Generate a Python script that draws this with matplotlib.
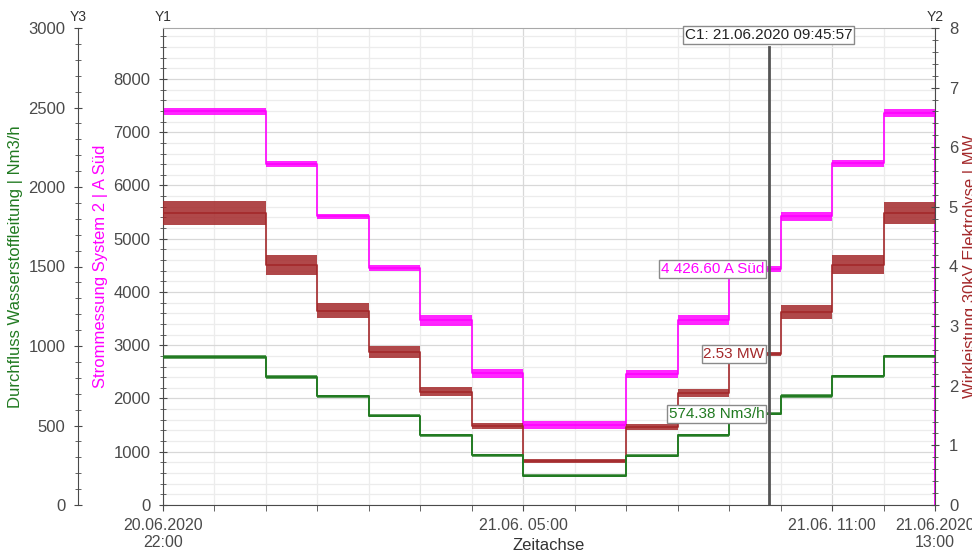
import matplotlib.pyplot as plt
import matplotlib.dates as mdates
from matplotlib.ticker import MultipleLocator, FixedLocator
from datetime import datetime

plt.rcParams['font.family'] = ['Liberation Sans', 'DejaVu Sans']

# hourly steps of the load profile, last entry = end of recording
step_times = [datetime(2020, 6, 20, 22), datetime(2020, 6, 21, 0), datetime(2020, 6, 21, 1),
              datetime(2020, 6, 21, 2), datetime(2020, 6, 21, 3), datetime(2020, 6, 21, 4),
              datetime(2020, 6, 21, 5), datetime(2020, 6, 21, 7), datetime(2020, 6, 21, 8),
              datetime(2020, 6, 21, 9), datetime(2020, 6, 21, 10), datetime(2020, 6, 21, 11),
              datetime(2020, 6, 21, 12), datetime(2020, 6, 21, 13)]

current_a = [7390, 6400, 5420, 4450, 3470, 2470, 1500, 2460, 3470, 4430, 5420, 6415, 7360]
power_mw = [4.90, 4.03, 3.26, 2.57, 1.90, 1.33, 0.74, 1.31, 1.88, 2.53, 3.24, 4.03, 4.90]
flow_nm3h = [931, 805, 684, 561, 439, 312, 184, 310, 439, 574, 686, 810, 935]
# rough half height of the measurement noise on each step
current_spread = [70, 60, 50, 60, 100, 80, 70, 80, 90, 50, 80, 70, 70]
power_spread = [0.20, 0.17, 0.13, 0.10, 0.08, 0.05, 0.03, 0.05, 0.07, 0.03, 0.12, 0.16, 0.19]
flow_spread = [10, 10, 10, 10, 10, 10, 8, 10, 10, 8, 10, 10, 10]

cursor_time = datetime(2020, 6, 21, 9, 45, 57)
cursor_current = 4426.60
cursor_power = 2.53
cursor_flow = 574.38

x_major = [datetime(2020, 6, 20, 22), datetime(2020, 6, 21, 5), datetime(2020, 6, 21, 11),
           datetime(2020, 6, 21, 13)]
x_major_labels = ['20.06.2020\n22:00', '21.06. 05:00', '21.06. 11:00', '21.06.2020\n13:00']

c_cur = '#ff00ff'
c_pow = '#a3282a'
c_flow = '#217a21'
c_axis = '#4a4a4a'


def ext(vals):
    return vals + [vals[-1]]


fig = plt.figure(figsize=(9.72, 5.54), dpi=100)
ax = fig.add_axes([163 / 972, 49 / 554, 772 / 972, 477 / 554])
ax2 = ax.twinx()
ax3 = ax.twinx()

# Y1 current
lo = [v - s for v, s in zip(current_a, current_spread)]
hi = [v + s for v, s in zip(current_a, current_spread)]
ax.fill_between(step_times, ext(lo), ext(hi), step='post', color=c_cur, alpha=0.85, lw=0)
ax.step(step_times, ext(current_a), where='post', color=c_cur, lw=1.2)
ax.plot([step_times[-1], step_times[-1]], [current_a[-1], 0], color=c_cur, lw=1.3)

# Y2 power
lo = [v - s for v, s in zip(power_mw, power_spread)]
hi = [v + s for v, s in zip(power_mw, power_spread)]
ax2.fill_between(step_times, ext(lo), ext(hi), step='post', color=c_pow, alpha=0.85, lw=0)
ax2.step(step_times, ext(power_mw), where='post', color=c_pow, lw=1.2)

# Y3 flow
lo = [v - s for v, s in zip(flow_nm3h, flow_spread)]
hi = [v + s for v, s in zip(flow_nm3h, flow_spread)]
ax3.fill_between(step_times, ext(lo), ext(hi), step='post', color=c_flow, alpha=0.7, lw=0)
ax3.step(step_times, ext(flow_nm3h), where='post', color=c_flow, lw=1.4)

ax.set_xlim(step_times[0], step_times[-1])
ax.set_ylim(0, 8957)
ax2.set_ylim(0, 8)
ax3.set_ylim(0, 3000)

# x axis
ax.xaxis.set_major_locator(FixedLocator(mdates.date2num(x_major)))
ax.set_xticklabels(x_major_labels)
ax.xaxis.set_minor_locator(mdates.HourLocator())
ax.tick_params(axis='x', which='both', direction='out', length=4, colors=c_axis,
               labelsize=11.5, pad=5)
ax.set_xlabel('Zeitachse', fontsize=12, color='#333333')
ax.xaxis.set_label_coords(0.5, -0.07)

# grid
ax.yaxis.set_minor_locator(MultipleLocator(200))
ax.grid(which='major', color='#d8d8d8', lw=0.9)
ax.grid(which='minor', color='#ececec', lw=0.9)
ax.set_axisbelow(True)

ax.yaxis.set_major_locator(FixedLocator(range(0, 8001, 1000)))
ax.tick_params(axis='y', which='major', direction='inout', length=6, colors=c_axis, labelsize=12, pad=6)
ax.tick_params(axis='y', which='minor', direction='inout', length=4, colors=c_axis)
ax.set_ylabel('Strommessung System 2 | A Süd', color=c_cur, fontsize=12)
ax.yaxis.set_label_coords((108 - 163) / 772, 0.5)

ax2.yaxis.set_major_locator(MultipleLocator(1))
ax2.yaxis.set_minor_locator(MultipleLocator(0.2))
ax2.tick_params(axis='y', which='major', direction='inout', length=6, colors=c_axis, labelsize=12, pad=7)
ax2.tick_params(axis='y', which='minor', direction='inout', length=4, colors=c_axis)
ax2.set_ylabel('Wirkleistung 30kV Elektrolyse | MW', color=c_pow, fontsize=12)
ax2.yaxis.set_label_coords((963 - 163) / 772, 0.5)

ax3.spines['left'].set_position(('axes', (78 - 163) / 772))
ax3.yaxis.set_ticks_position('left')
ax3.yaxis.set_label_position('left')
ax3.yaxis.set_major_locator(MultipleLocator(500))
ax3.yaxis.set_minor_locator(MultipleLocator(100))
ax3.tick_params(axis='y', which='major', direction='inout', length=6, colors=c_axis, labelsize=12, pad=6)
ax3.tick_params(axis='y', which='minor', direction='inout', length=4, colors=c_axis)
ax3.set_ylabel('Durchfluss Wasserstoffleitung | Nm3/h', color=c_flow, fontsize=12)
ax3.yaxis.set_label_coords((23 - 163) / 772, 0.5)

for a in (ax, ax2, ax3):
    for s in a.spines.values():
        s.set_visible(False)
ax.spines['left'].set_visible(True)
ax.spines['bottom'].set_visible(True)
ax.spines['top'].set_visible(True)
ax.spines['top'].set_color('#a8a8a8')
ax.spines['left'].set_color(c_axis)
ax.spines['bottom'].set_color(c_axis)
ax2.spines['right'].set_visible(True)
ax2.spines['right'].set_color(c_axis)
ax3.spines['left'].set_visible(True)
ax3.spines['left'].set_color(c_axis)

# cursor
ax3.axvline(cursor_time, ymax=(505 - 47) / 477, color='#555555', lw=2)
box = dict(boxstyle='square,pad=0.12', fc='white', ec='#8a8a8a', lw=1)
ax3.annotate('C1: 21.06.2020 09:45:57', xy=(cursor_time, 1), xycoords=('data', 'axes fraction'),
             xytext=(0, 0), textcoords='offset points', ha='center', va='top',
             fontsize=11, color='#222222', bbox=box)
ax.annotate(f'{cursor_current:,.2f} A Süd'.replace(',', ' '), xy=(cursor_time, cursor_current),
            xytext=(-3, 0), textcoords='offset points', ha='right', va='center',
            fontsize=11, color=c_cur, bbox=box)
ax2.annotate(f'{cursor_power:.2f} MW', xy=(cursor_time, cursor_power),
             xytext=(-3, 0), textcoords='offset points', ha='right', va='center',
             fontsize=11, color=c_pow, bbox=box)
ax3.annotate(f'{cursor_flow:.2f} Nm3/h', xy=(cursor_time, cursor_flow),
             xytext=(-3, 0), textcoords='offset points', ha='right', va='center',
             fontsize=11, color=c_flow, bbox=box)

fig.text(78 / 972, 1 - 17 / 554, 'Y3', ha='center', va='center', fontsize=10, color='#333333')
fig.text(163 / 972, 1 - 17 / 554, 'Y1', ha='center', va='center', fontsize=10, color='#333333')
fig.text(935 / 972, 1 - 17 / 554, 'Y2', ha='center', va='center', fontsize=10, color='#333333')

fig.savefig('out.png', dpi=100)
